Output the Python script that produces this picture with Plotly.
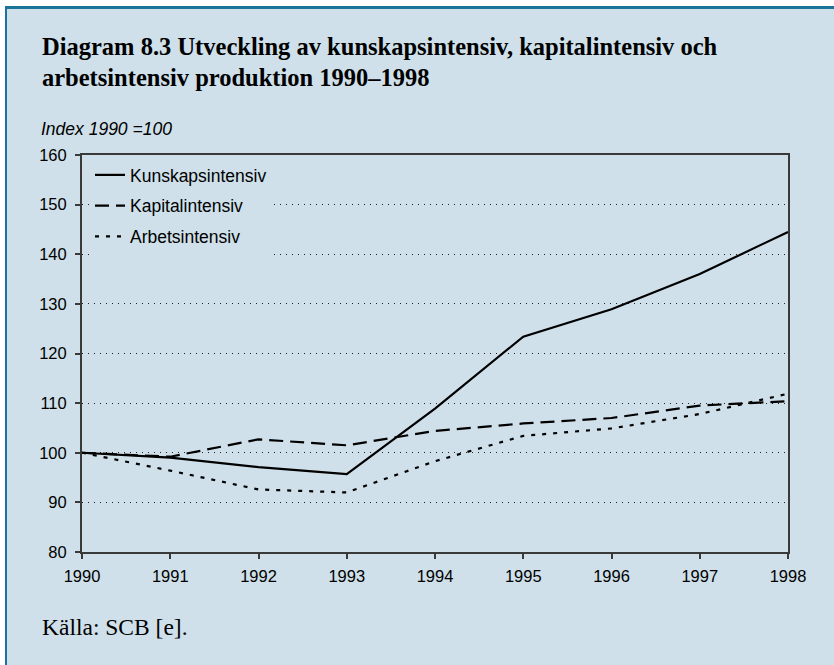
import plotly.graph_objects as go

years = [1990, 1991, 1992, 1993, 1994, 1995, 1996, 1997, 1998]
kunskap = [100, 99.0, 97.1, 95.7, 108.9, 123.4, 128.9, 136.0, 144.5]
kapital = [100, 99.2, 102.7, 101.5, 104.4, 105.9, 107.0, 109.5, 110.4]
arbets = [100, 96.4, 92.6, 92.0, 98.3, 103.4, 104.9, 107.8, 111.9]
series_names = ["Kunskapsintensiv", "Kapitalintensiv", "Arbetsintensiv"]
y_ticks = [80, 90, 100, 110, 120, 130, 140, 150, 160]

BG = "#cfe0ea"
W, H = 834, 665
L, R, T, B = 82, 46, 155, 113
PW, PH = W - L - R, H - T - B


def px(x):
    return (x - L) / PW


def py(y):
    return (H - B - y) / PH


fig = go.Figure()
fig.add_trace(go.Scatter(x=years, y=kunskap, name=series_names[0], mode="lines",
                         legendgroup="a", line=dict(color="black", width=2.2)))
fig.add_trace(go.Scatter(x=years, y=kapital, name=series_names[1], mode="lines",
                         legendgroup="b", line=dict(color="black", width=2.2, dash="14px,7px")))
fig.add_trace(go.Scatter(x=years, y=arbets, name=series_names[2], mode="lines",
                         legendgroup="c", line=dict(color="black", width=2.2, dash="4px,7px")))

fig.update_layout(
    width=W, height=H,
    paper_bgcolor=BG, plot_bgcolor=BG,
    margin=dict(l=L, r=R, t=T, b=B),
    font=dict(family="Liberation Sans, Arial, sans-serif", size=16.5, color="black"),
    showlegend=True,
    legend=dict(x=px(90), y=py(157), xanchor="left", yanchor="top",
                bgcolor=BG, borderwidth=0,
                font=dict(size=17.5, family="Liberation Sans, Arial, sans-serif"),
                tracegroupgap=5, itemwidth=30,
                xref="paper", yref="paper"),
    xaxis=dict(range=[1990, 1998], tickmode="array", tickvals=years,
               ticktext=[str(y) for y in years],
               showgrid=False, zeroline=False,
               showline=True, linecolor="#3a3a3a", linewidth=2, mirror=True,
               ticks="outside", ticklen=5, tickcolor="#3a3a3a", tickwidth=1.5,
               ticklabelstandoff=3),
    yaxis=dict(range=[80, 160], tickmode="array", tickvals=y_ticks,
               showgrid=True, gridcolor="#222222", griddash="1px,5px", gridwidth=1.2,
               zeroline=False,
               showline=True, linecolor="#3a3a3a", linewidth=2, mirror=True,
               ticks="outside", ticklen=5, tickcolor="#3a3a3a", tickwidth=1.5,
               ticklabelstandoff=5),
)

serif = "Liberation Serif, Times New Roman, serif"
fig.add_annotation(text="<b>Diagram 8.3 Utveckling av kunskapsintensiv, kapitalintensiv och</b>",
                   xref="paper", yref="paper", x=px(40), y=py(46), xanchor="left", yanchor="middle",
                   showarrow=False, font=dict(family=serif, size=24.5, color="black"))
fig.add_annotation(text="<b>arbetsintensiv produktion 1990–1998</b>",
                   xref="paper", yref="paper", x=px(40), y=py(77), xanchor="left", yanchor="middle",
                   showarrow=False, font=dict(family=serif, size=24.5, color="black"))
fig.add_annotation(text="<i>Index 1990 =100</i>", xref="paper", yref="paper",
                   x=px(39), y=py(129), xanchor="left", yanchor="middle",
                   showarrow=False,
                   font=dict(family="Liberation Sans, Arial, sans-serif", size=17.5, color="black"))
fig.add_annotation(text="Källa: SCB [e].", xref="paper", yref="paper",
                   x=px(40), y=py(627), xanchor="left", yanchor="middle",
                   showarrow=False, font=dict(family=serif, size=23.5, color="black"))

# page frame: white outer strips and blue top/left rules
fig.add_shape(type="rect", xref="paper", yref="paper",
              x0=px(-5), x1=px(W + 5), y0=py(6), y1=py(-5),
              line=dict(width=0), fillcolor="white", layer="above")
fig.add_shape(type="rect", xref="paper", yref="paper",
              x0=px(-5), x1=px(5), y0=py(H + 5), y1=py(-5),
              line=dict(width=0), fillcolor="white", layer="above")
fig.add_shape(type="line", xref="paper", yref="paper",
              x0=px(5), x1=px(W + 5), y0=py(7.5), y1=py(7.5),
              line=dict(color="#1c7399", width=3), layer="above")
fig.add_shape(type="line", xref="paper", yref="paper",
              x0=px(6), x1=px(6), y0=py(6), y1=py(H + 5),
              line=dict(color="#1c7399", width=2), layer="above")

fig.write_html("out.html", config={"displayModeBar": False},
               post_script="document.body.style.margin='0px';")
